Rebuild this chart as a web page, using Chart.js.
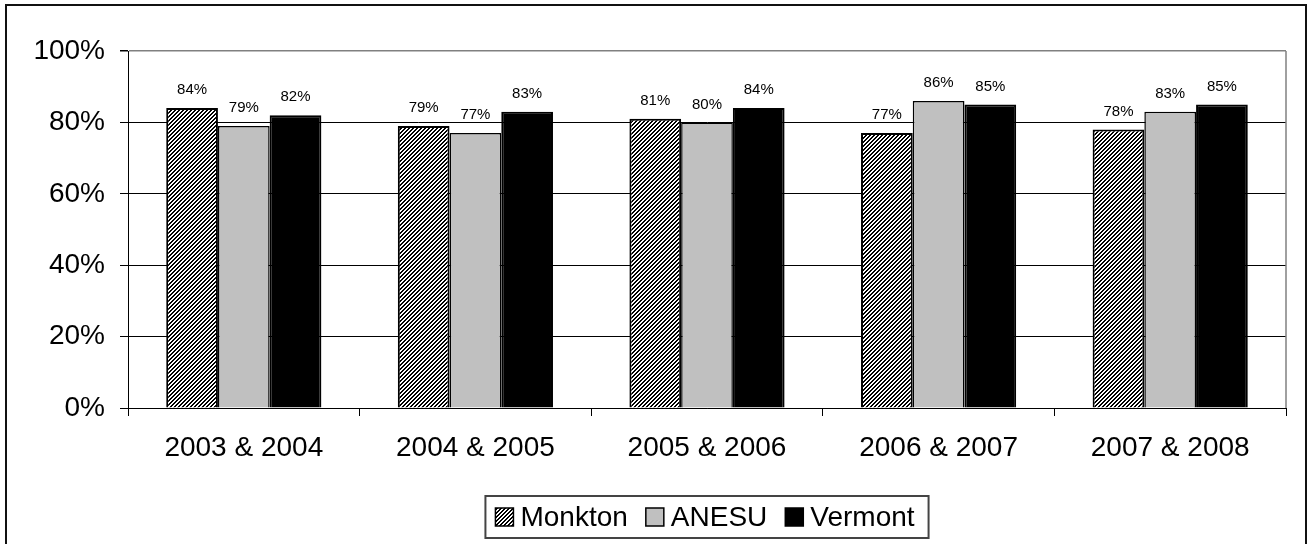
<!DOCTYPE html>
<html>
<head>
<meta charset="utf-8">
<script src="https://cdn.jsdelivr.net/npm/chart.js@4.4.1/dist/chart.umd.min.js"></script>
<style>
  html, body { margin: 0; padding: 0; background: #fff; }
  #wrap { position: relative; width: 1310px; height: 544px; }
</style>
</head>
<body>
<div id="wrap"><canvas id="c" width="1310" height="544"></canvas></div>
<script>
// Category labels (school-year pairs)
const categories = ['2003 & 2004', '2004 & 2005', '2005 & 2006', '2006 & 2007', '2007 & 2008'];
// Percent of students meeting the standard
const monkton = [84, 79, 81, 77, 78];
const anesu   = [79, 77, 80, 86, 83];
const vermont = [82, 83, 84, 85, 85];
// Y-axis tick values
const yTicks = [0, 20, 40, 60, 80, 100];

const FONT = "Arial, 'Liberation Sans', sans-serif";

// Fine diagonal hatch used for the Monkton series
function makeHatch() {
  const t = document.createElement('canvas');
  t.width = 4; t.height = 4;
  const g = t.getContext('2d');
  g.fillStyle = '#ffffff';
  g.fillRect(0, 0, 4, 4);
  g.fillStyle = '#000000';
  for (let x = 0; x < 4; x++) {
    for (let y = 0; y < 4; y++) {
      if ((x + y) % 4 < 2) g.fillRect(x, y, 1, 1);
    }
  }
  return g.createPattern(t, 'repeat');
}
const ctx0 = document.getElementById('c').getContext('2d');
const hatch = makeHatch();

// Frame around the whole chart and grey right edge of the plot
const framePlugin = {
  id: 'frame',
  beforeDraw(chart) {
    const c = chart.ctx;
    c.save();
    c.fillStyle = '#fff';
    c.fillRect(0, 0, chart.width, chart.height);
    c.strokeStyle = '#111';
    c.lineWidth = 2;
    c.strokeRect(6, 5, 1300, 600);
    c.restore();
  },
  afterDraw(chart) {
    const a = chart.chartArea;
    const c = chart.ctx;
    c.save();
    c.strokeStyle = '#808080';
    c.lineWidth = 1.5;
    c.beginPath();
    c.moveTo(a.right, a.top);
    c.lineTo(a.right, a.bottom);
    c.stroke();
    c.restore();
  }
};

// Value labels above each bar
const valueLabels = {
  id: 'valueLabels',
  afterDatasetsDraw(chart) {
    const c = chart.ctx;
    c.save();
    c.font = '15px ' + FONT;
    c.fillStyle = '#000';
    c.textAlign = 'center';
    c.textBaseline = 'middle';
    chart.data.datasets.forEach((ds, di) => {
      chart.getDatasetMeta(di).data.forEach((bar, i) => {
        c.fillText(ds.data[i] + '%', bar.x, bar.y - 18);
      });
    });
    c.restore();
  }
};

// Boxed legend centred under the plot
const boxLegend = {
  id: 'boxLegend',
  afterDraw(chart) {
    const c = chart.ctx;
    const a = chart.chartArea;
    c.save();
    c.font = '28px ' + FONT;
    const box = 18, gapText = 7, gapItem = 18, padL = 10, padR = 14;
    const items = chart.data.datasets.map(ds => ({
      label: ds.label, fill: ds.backgroundColor, w: c.measureText(ds.label).width
    }));
    let total = padL + padR;
    items.forEach((it, i) => { total += box + gapText + it.w + (i ? gapItem : 0); });
    const left = (a.left + a.right) / 2 - total / 2;
    const top = 496, bottom = 538, mid = (top + bottom) / 2;
    c.strokeStyle = '#444';
    c.lineWidth = 2;
    c.strokeRect(left, top, total, bottom - top);
    let x = left + padL;
    c.textBaseline = 'middle';
    c.textAlign = 'left';
    items.forEach((it, i) => {
      if (i) x += gapItem;
      c.fillStyle = it.fill;
      c.fillRect(x, mid - box / 2, box, box);
      c.strokeStyle = '#000';
      c.lineWidth = 1.5;
      c.strokeRect(x, mid - box / 2, box, box);
      x += box + gapText;
      c.fillStyle = '#000';
      c.fillText(it.label, x, mid + 1);
      x += it.w;
    });
    c.restore();
  }
};

new Chart(ctx0, {
  type: 'bar',
  data: {
    labels: categories,
    datasets: [
      { label: 'Monkton', data: monkton, backgroundColor: hatch, borderColor: '#000', borderWidth: 2 },
      { label: 'ANESU', data: anesu, backgroundColor: '#c0c0c0', borderColor: '#000', borderWidth: 1.5 },
      { label: 'Vermont', data: vermont, backgroundColor: '#000000', borderColor: '#000', borderWidth: 2 }
    ]
  },
  options: {
    responsive: false,
    animation: false,
    events: [],
    layout: { padding: { top: 51, right: 24, left: 0, bottom: 0 } },
    datasets: { bar: { categoryPercentage: 0.67, barPercentage: 1.0 } },
    plugins: { legend: { display: false }, tooltip: { enabled: false } },
    scales: {
      x: {
        afterFit(s) { s.height = 136; },
        grid: { offset: true, drawOnChartArea: false, drawTicks: true, tickLength: 8, tickColor: '#000', color: '#000' },
        border: { display: true, color: '#000', width: 1 },
        ticks: { color: '#000', font: { family: FONT, size: 28 }, padding: 15, maxRotation: 0 }
      },
      y: {
        min: yTicks[0],
        max: yTicks[yTicks.length - 1],
        afterFit(s) { s.width = 128; },
        afterBuildTicks(s) { s.ticks = yTicks.map(v => ({ value: v })); },
        grid: {
          color: c => (c.tick && c.tick.value === 100 ? '#808080' : '#000'),
          lineWidth: c => (c.tick && c.tick.value === 100 ? 1.5 : 1),
          tickLength: 8,
          tickColor: '#000'
        },
        border: { display: true, color: '#000', width: 1 },
        ticks: { color: '#000', font: { family: FONT, size: 28 }, padding: 15, callback: v => v + '%' }
      }
    }
  },
  plugins: [framePlugin, valueLabels, boxLegend]
});
</script>
</body>
</html>
